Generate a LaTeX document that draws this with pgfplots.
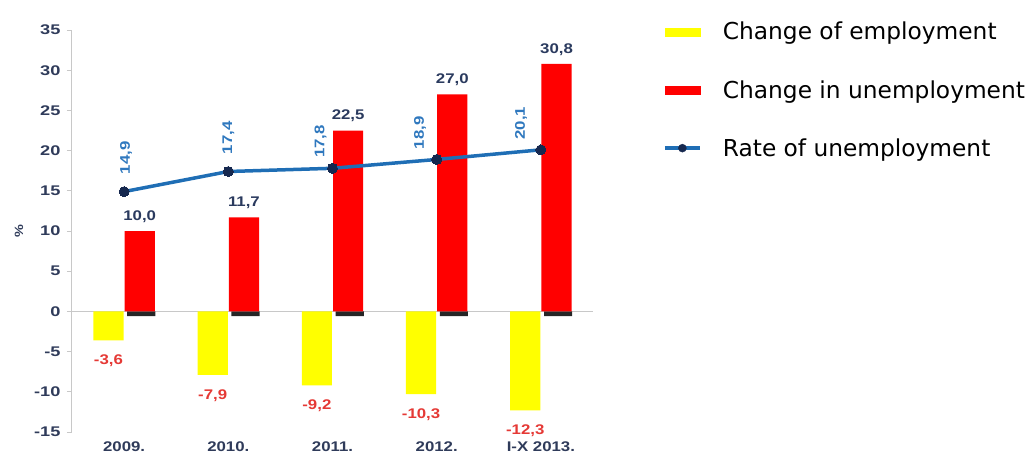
\documentclass[border=0pt]{standalone}
\usepackage{fontspec}
\setmainfont{Liberation Sans}
\newfontfamily\tf[FakeStretch=1.2]{Liberation Sans}
\newfontfamily\yf[FakeStretch=1.3]{Liberation Sans}
\newfontfamily\lf{DejaVu Sans}
\usepackage{pgfplots}
\pgfplotsset{compat=1.18}
\definecolor{ylw}{HTML}{FFFF00}
\definecolor{rd}{HTML}{FF0000}
\definecolor{ln}{HTML}{1F6EB5}
\definecolor{mk}{HTML}{16284F}
\definecolor{tk}{HTML}{2F3B5A}
\definecolor{lbl}{HTML}{2A3A5E}
\definecolor{nred}{HTML}{E53935}
\definecolor{lblue}{HTML}{2F78BE}
\definecolor{ax}{HTML}{C8C8C8}
\begin{document}
\begin{tikzpicture}
\path[use as bounding box] (0,0) rectangle (1029pt,459pt);
\begin{axis}[
  at={(72pt,27pt)}, anchor=south west,
  scale only axis, width=521pt, height=402pt,
  xmin=-0.5, xmax=4.5, ymin=-15, ymax=35,
  axis x line*=bottom, axis y line*=left,
  x axis line style={draw=none},
  y axis line style={ax, line width=1pt, -},
  xtick={0,...,4}, xticklabels={2009.,2010.,2011.,2012.,I-X 2013.},
  xtick style={draw=none},
  ytick={-15,-10,...,35},
  ytick style={ax, line width=1pt},
  tick align=outside, major tick length=5pt,
  xticklabel style={font=\tf\fontsize{14}{16}\selectfont\bfseries, text=tk, yshift=-1pt},
  yticklabel style={font=\yf\fontsize{14}{16}\selectfont\bfseries, text=tk, xshift=-3pt},
  /pgf/number format/assume math mode=true,
  ylabel={\%}, ylabel shift=4pt,
  ylabel style={font=\tf\fontsize{12}{14}\selectfont\bfseries, text=tk},
  legend style={at={(1.128,1.03)}, anchor=north west, draw=none, fill=none,
    font=\lf\fontsize{23.3}{28}\selectfont, row sep=35pt,
    /tikz/every odd column/.append style={column sep=19pt}},
  legend cell align=left,
  clip=false,
]
\addlegendimage{legend image code/.code={\fill[ylw] (0pt,-4pt) rectangle (35pt,4pt);}}
\addlegendentry{Change of employment}
\addlegendimage{legend image code/.code={\fill[rd] (0pt,-4pt) rectangle (35pt,4pt);}}
\addlegendentry{Change in unemployment}
\addlegendimage{legend image code/.code={\draw[ln, line width=4pt] (0pt,0pt) -- (35pt,0pt); \fill[mk] (17.5pt,0pt) circle (4pt);}}
\addlegendentry{Rate of unemployment}

\draw[ax, line width=1pt] (axis cs:-0.5,0) -- (axis cs:4.5,0);

\addplot[ybar, bar width=0.29, bar shift=0pt, fill=ylw, draw=none, forget plot,
  nodes near coords={\pgfmathprintnumber[fixed,fixed zerofill,precision=1,use comma]{\pgfplotspointmeta}},
  every node near coord/.append style={font=\tf\fontsize{14}{16}\selectfont\bfseries, text=nred, anchor=north, yshift=-11pt}]
  coordinates {(-0.15,-3.6) (0.85,-7.9) (1.85,-9.2) (2.85,-10.3) (3.85,-12.3)};

\addplot[ybar, bar width=0.27, bar shift=0pt, fill=black!85, draw=none, forget plot]
  coordinates {(0.165,-0.6) (1.165,-0.6) (2.165,-0.6) (3.165,-0.6) (4.165,-0.6)};

\addplot[ybar, bar width=0.29, bar shift=0pt, fill=rd, draw=none, forget plot,
  nodes near coords={\pgfmathprintnumber[fixed,fixed zerofill,precision=1,use comma]{\pgfplotspointmeta}},
  every node near coord/.append style={font=\tf\fontsize{14}{16}\selectfont\bfseries, text=lbl, anchor=south, yshift=5pt}]
  coordinates {(0.15,10.0) (1.15,11.7) (2.15,22.5) (3.15,27.0) (4.15,30.8)};

\addplot[ln, line width=3.5pt, mark=*, mark size=5pt, mark options={fill=mk, draw=mk, line width=0pt}, forget plot]
  coordinates {(0,14.9) (1,17.4) (2,17.8) (3,18.9) (4,20.1)};

% value labels of the rate line
\addplot[draw=none, mark=none, forget plot, point meta=y,
  nodes near coords={\pgfmathprintnumber[fixed,fixed zerofill,precision=1,use comma]{\pgfplotspointmeta}},
  every node near coord/.append style={font=\tf\fontsize{14}{16}\selectfont\bfseries, text=lblue, anchor=west, outer xsep=14pt, rotate=90}]
  coordinates {(0.02,14.9) (1,17.4)};
\addplot[draw=none, mark=none, forget plot, point meta=y,
  nodes near coords={\pgfmathprintnumber[fixed,fixed zerofill,precision=1,use comma]{\pgfplotspointmeta}},
  every node near coord/.append style={font=\tf\fontsize{14}{16}\selectfont\bfseries, text=lblue, anchor=west, outer xsep=7pt, rotate=90}]
  coordinates {(1.885,17.8) (2.84,18.9) (3.81,20.1)};
\end{axis}
\end{tikzpicture}
\end{document}
